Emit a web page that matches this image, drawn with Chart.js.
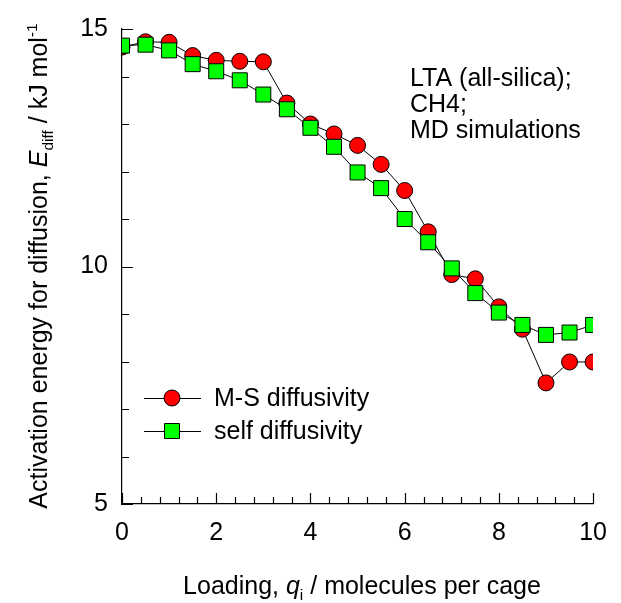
<!DOCTYPE html>
<html><head><meta charset="utf-8">
<script src="https://cdn.jsdelivr.net/npm/chart.js@4/dist/chart.umd.min.js"></script>
<style>html,body{margin:0;padding:0;background:#fff}#wrap{width:621px;height:603px}</style>
</head><body><div id="wrap"><canvas id="c" width="621" height="603"></canvas></div>
<script>
const loading = [0,0.5,1,1.5,2,2.5,3,3.5,4,4.5,5,5.5,6,6.5,7,7.5,8,8.5,9,9.5,10];
const msDiff = [14.62,14.73,14.72,14.44,14.34,14.32,14.31,13.44,13.0,12.79,12.55,12.15,11.6,10.73,9.83,9.74,9.15,8.68,7.55,7.99,7.99];
const selfDiff = [14.65,14.67,14.55,14.26,14.11,13.92,13.62,13.31,12.92,12.52,11.98,11.65,11.0,10.51,9.96,9.44,9.03,8.77,8.56,8.61,8.77];
const xTickLabels = [0,2,4,6,8,10];
const yTickLabels = [5,10,15];
const seriesNames = ['M-S diffusivity','self diffusivity'];
const noteLines = ['LTA (all-silica);','CH4;','MD simulations'];

const FONT = '"Liberation Sans", Arial, sans-serif';
const FS = 25;
const toXY = (ys) => loading.map((x,i)=>({x, y: ys[i]}));

function drawRich(ctx, segs, size) {
  let x = 0;
  for (const s of segs) {
    const fs = s.sub || s.sup ? size*0.62 : size;
    ctx.font = (s.italic ? 'italic ' : '') + fs + 'px ' + FONT;
    const dy = s.sub ? size*0.25 : (s.sup ? -size*0.42 : 0);
    ctx.fillText(s.t, x, dy);
    x += ctx.measureText(s.t).width;
  }
  return x;
}
function measureRich(ctx, segs, size) {
  let x = 0;
  for (const s of segs) {
    const fs = s.sub || s.sup ? size*0.62 : size;
    ctx.font = (s.italic ? 'italic ' : '') + fs + 'px ' + FONT;
    x += ctx.measureText(s.t).width;
  }
  return x;
}

const decor = {
  id: 'decor',
  afterDraw(chart) {
    const ctx = chart.ctx, xs = chart.scales.x, ys = chart.scales.y, a = chart.chartArea;
    ctx.save();
    ctx.strokeStyle = '#000'; ctx.lineWidth = 1.2;
    ctx.beginPath();
    for (let v = 0; v <= 10.001; v += 0.4) {
      const px = Math.round(xs.getPixelForValue(v)) + 0.5;
      const major = Math.abs(v/2 - Math.round(v/2)) < 1e-6;
      ctx.moveTo(px, a.bottom); ctx.lineTo(px, a.bottom - (major ? 11 : 7));
    }
    for (let v = 5; v <= 15; v += 1) {
      const py = Math.round(ys.getPixelForValue(v)) + 0.5;
      const major = v % 5 === 0;
      ctx.moveTo(a.left, py); ctx.lineTo(a.left + (major ? 11 : 7), py);
    }
    ctx.stroke();
    ctx.fillStyle = '#000'; ctx.textBaseline = 'alphabetic'; ctx.textAlign = 'left';
    ctx.font = FS + 'px ' + FONT;
    noteLines.forEach((t,i)=> ctx.fillText(t, 410, 86 + i*26));
    const ds = chart.data.datasets;
    const order = [1,0];
    order.forEach((di, row) => {
      const d = ds[di];
      const cy = 398 + row*33;
      ctx.beginPath(); ctx.lineWidth = 1; ctx.strokeStyle = '#000';
      ctx.moveTo(144, cy+0.5); ctx.lineTo(201, cy+0.5); ctx.stroke();
      ctx.fillStyle = d.pointBackgroundColor; ctx.strokeStyle = '#000';
      ctx.beginPath();
      if (d.pointStyle === 'circle') ctx.arc(172, cy, d.pointRadius, 0, Math.PI*2);
      else { const h = d.pointRadius*Math.SQRT1_2; ctx.rect(172-h, cy-h, 2*h, 2*h); }
      ctx.fill(); ctx.stroke();
      ctx.fillStyle = '#000'; ctx.font = FS + 'px ' + FONT;
      ctx.fillText(d.label, 214, cy + 8);
    });
    const xt = [{t:'Loading, '},{t:'q',italic:true},{t:'i',sub:true},{t:' / molecules per cage'}];
    const xw = measureRich(ctx, xt, FS);
    ctx.save(); ctx.translate(362 - xw/2, 594); drawRich(ctx, xt, FS); ctx.restore();
    const yt = [{t:'Activation energy for diffusion, '},{t:'E',italic:true},{t:'diff',sub:true},{t:' / kJ mol'},{t:'-1',sup:true}];
    const yw = measureRich(ctx, yt, FS);
    ctx.save(); ctx.translate(47, 266 + yw/2); ctx.rotate(-Math.PI/2); drawRich(ctx, yt, FS); ctx.restore();
    ctx.restore();
  }
};

new Chart(document.getElementById('c'), {
  type: 'line',
  data: {
    datasets: [
      { label: seriesNames[1], data: toXY(selfDiff), borderColor: '#000', borderWidth: 1,
        pointStyle: 'rect', pointRadius: 10.6, pointHoverRadius: 10.6,
        pointBackgroundColor: '#00ff00', pointBorderColor: '#000', pointBorderWidth: 1, tension: 0 },
      { label: seriesNames[0], data: toXY(msDiff), borderColor: '#000', borderWidth: 1,
        pointStyle: 'circle', pointRadius: 8, pointHoverRadius: 8,
        pointBackgroundColor: '#ff0000', pointBorderColor: '#000', pointBorderWidth: 1, tension: 0 }
    ]
  },
  options: {
    responsive: false, animation: false, devicePixelRatio: 1,
    layout: { padding: { left: 0, right: 18, top: 25, bottom: 0 } },
    plugins: { legend: { display: false }, tooltip: { enabled: false } },
    scales: {
      x: { type: 'linear', min: 0, max: 10,
        afterFit(s) { s.height = 99; },
        grid: { display: true, drawOnChartArea: false, drawTicks: false },
        border: { display: true, color: '#000', width: 1.2 },
        ticks: { stepSize: 2, padding: 14, color: '#000', font: { family: FONT, size: FS },
          callback: (v) => xTickLabels.includes(v) ? String(v) : '' , maxRotation: 0, autoSkip: false } },
      y: { type: 'linear', min: 5, max: 15,
        afterFit(s) { s.width = 122; },
        grid: { display: true, drawOnChartArea: false, drawTicks: false },
        border: { display: true, color: '#000', width: 1.2 },
        ticks: { stepSize: 5, padding: 14, color: '#000', font: { family: FONT, size: FS },
          callback: (v) => yTickLabels.includes(v) ? String(v) : '' } }
    }
  },
  plugins: [decor]
});
</script></body></html>
